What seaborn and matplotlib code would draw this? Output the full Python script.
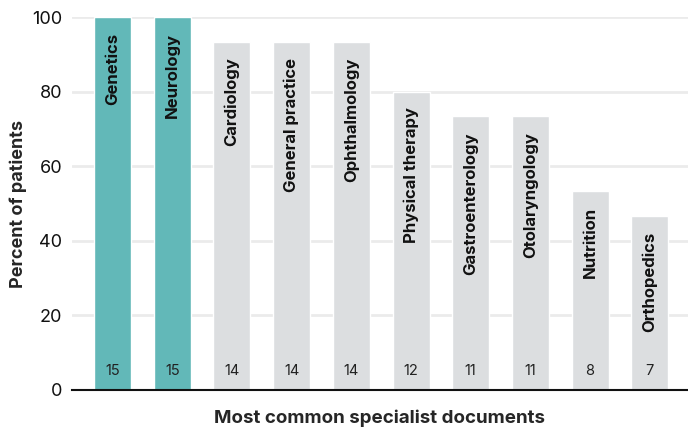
import pandas as pd
import seaborn as sns
import matplotlib.pyplot as plt

# data
specialties = ["Genetics", "Neurology", "Cardiology", "General practice", "Ophthalmology",
               "Physical therapy", "Gastroenterology", "Otolaryngology", "Nutrition", "Orthopedics"]
counts = [15, 15, 14, 14, 14, 12, 11, 11, 8, 7]
total_patients = 15
highlight = ["Genetics", "Neurology"]

df = pd.DataFrame({"Specialty": specialties, "Count": counts})
df["Percent"] = df["Count"] / total_patients * 100
df["Group"] = ["hi" if s in highlight else "lo" for s in df["Specialty"]]

sns.set_theme(style="white")
plt.rcParams["font.family"] = ["Inter", "DejaVu Sans"]

fig = plt.figure(figsize=(6.88, 4.29), dpi=100)
ax = fig.add_axes([72 / 688, 39 / 429, 1 - 72 / 688, 373 / 429])

ax.yaxis.grid(True, color="#ebebeb", linewidth=2)
ax.set_axisbelow(True)

sns.barplot(data=df, x="Specialty", y="Percent", hue="Group",
            palette={"hi": "#62b8b8", "lo": "#dcdee0"}, dodge=False, saturation=1,
            width=0.62, legend=False, ax=ax)

# labels inside bars
for i, row in df.iterrows():
    ax.text(i, row["Percent"] - 4.2, row["Specialty"], rotation=90, ha="center", va="top",
            fontsize=12, fontweight="bold", color="#111111")
    ax.text(i, 5, str(row["Count"]), ha="center", va="center", fontsize=10.5, color="#222222")

ax.set_xlim(-0.68, 9.64)
ax.set_ylim(0, 100)
ax.set_yticks([0, 20, 40, 60, 80, 100])
ax.set_xticks([])
ax.tick_params(axis="y", length=0, labelsize=13, pad=7, colors="#111111")

for s in ["top", "right", "left"]:
    ax.spines[s].set_visible(False)
ax.spines["bottom"].set_color("#111111")
ax.spines["bottom"].set_linewidth(1.5)

ax.set_xlabel("Most common specialist documents", fontsize=13.5, fontweight="bold", labelpad=14)
ax.set_ylabel("Percent of patients", fontsize=13, fontweight="bold", labelpad=4)

plt.savefig("out.png", dpi=100)
